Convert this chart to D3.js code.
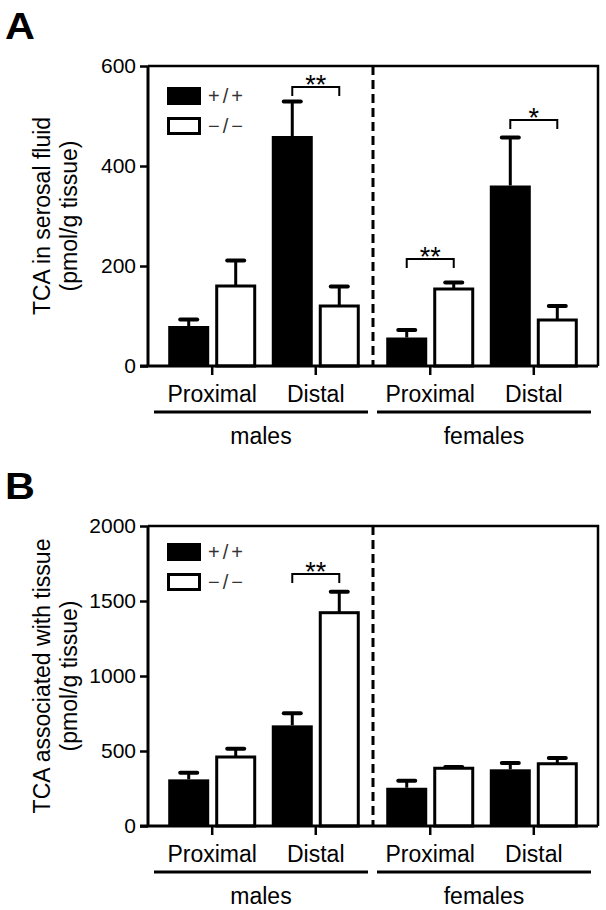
<!DOCTYPE html>
<html><head><meta charset="utf-8">
<script src="https://cdn.jsdelivr.net/npm/d3@7"></script>
<style>
html,body{margin:0;padding:0;background:#fff;}
svg{display:block;font-family:"Liberation Sans",Arial,Helvetica,sans-serif;}
</style></head>
<body>
<svg id="chart" width="606" height="910"></svg>
<script>
// ---------- data ----------
const genders = ["males", "females"];
const regions = ["Proximal", "Distal"];
const genotypes = ["+/+", "\u2212/\u2212"];

// order: males-Proximal, males-Distal, females-Proximal, females-Distal
const serosalWT = [80, 460, 57, 361];
const serosalWTsem = [13, 69, 15, 96];
const serosalKO = [160, 120, 154, 92];
const serosalKOsem = [51, 39, 13, 28];
const serosalTicks = [0, 200, 400, 600];
const serosalSig = [
  { gender: "males", region: "Distal", label: "**", level: 558 },
  { gender: "females", region: "Proximal", label: "**", level: 214 },
  { gender: "females", region: "Distal", label: "*", level: 492 }
];

const tissueWT = [311, 671, 255, 378];
const tissueWTsem = [44, 80, 47, 42];
const tissueKO = [460, 1422, 385, 415];
const tissueKOsem = [55, 140, 8, 38];
const tissueTicks = [0, 500, 1000, 1500, 2000];
const tissueSig = [
  { gender: "males", region: "Distal", label: "**", level: 1680 }
];

// ---------- layout ----------
const L = 148, R = 598, T = 66, B = 366;
const svg = d3.select("#chart");

const xGender = d3.scaleBand().domain(genders).range([L, R]).paddingInner(0.05).paddingOuter(0.057);
const xRegion = d3.scalePoint().domain(regions).range([0, xGender.bandwidth()]).padding(0.5);
const xGeno = d3.scaleBand().domain(genotypes).range([-44, 44]).paddingInner(6 / 47);

function groupX(g, r) { return xGender(g) + xRegion(r); }

function buildRows(wt, wtSem, ko, koSem) {
  const rows = [];
  let i = 0;
  genders.forEach(g => regions.forEach(r => {
    rows.push({ gender: g, region: r, geno: genotypes[0], mean: wt[i], sem: wtSem[i] });
    rows.push({ gender: g, region: r, geno: genotypes[1], mean: ko[i], sem: koSem[i] });
    i++;
  }));
  return rows;
}

function drawPanel(offsetY, letter, rows, ticks, sig, labelLines, legendTop) {
  const g = svg.append("g").attr("transform", `translate(0,${offsetY})`);
  const y = d3.scaleLinear().domain([0, d3.max(ticks)]).range([B, T]);

  // panel letter
  g.append("text").attr("transform", "translate(5,39) scale(1.12,1)").attr("font-size", 37).attr("font-weight", "bold").text(letter);

  // frame top/right
  g.append("path").attr("d", `M${L},${T}H${R}V${B}`).attr("fill", "none").attr("stroke", "#000").attr("stroke-width", 2.5);

  // dashed separator
  const sepX = (xGender("males") + xGender.bandwidth() + xGender("females")) / 2;
  g.append("line").attr("x1", sepX).attr("x2", sepX).attr("y1", T).attr("y2", B)
    .attr("stroke", "#000").attr("stroke-width", 3).attr("stroke-dasharray", "9,5");

  // bars
  g.selectAll("rect.bar").data(rows).join("rect").attr("class", "bar")
    .each(function (d) {
      const cx = groupX(d.gender, d.region) + xGeno(d.geno);
      const wt = d.geno === genotypes[0];
      const sel = d3.select(this);
      if (wt) {
        sel.attr("x", cx).attr("width", xGeno.bandwidth())
          .attr("y", y(d.mean)).attr("height", y(0) - y(d.mean)).attr("fill", "#000");
      } else {
        sel.attr("x", cx + 1.5).attr("width", xGeno.bandwidth() - 3)
          .attr("y", y(d.mean)).attr("height", y(0) - y(d.mean)).attr("fill", "#fff")
          .attr("stroke", "#000").attr("stroke-width", 3);
      }
    });

  // error bars (upper only)
  rows.forEach(d => {
    const cx = groupX(d.gender, d.region) + xGeno(d.geno) + xGeno.bandwidth() / 2;
    g.append("line").attr("x1", cx).attr("x2", cx).attr("y1", y(d.mean)).attr("y2", y(d.mean + d.sem))
      .attr("stroke", "#000").attr("stroke-width", 3);
    g.append("line").attr("x1", cx - 8.5).attr("x2", cx + 8.5).attr("y1", y(d.mean + d.sem)).attr("y2", y(d.mean + d.sem))
      .attr("stroke", "#000").attr("stroke-width", 4).attr("stroke-linecap", "round");
  });

  // y axis
  const yAxis = d3.axisLeft(y).tickValues(ticks).tickSize(8).tickPadding(4).tickFormat(d3.format("d"));
  const ya = g.append("g").attr("transform", `translate(${L},0)`).call(yAxis);
  ya.select(".domain").attr("stroke-width", 3).attr("d", `M0,${T}V${B}`);
  ya.selectAll(".tick line").attr("stroke-width", 2.5);
  ya.selectAll(".tick text").attr("font-size", 21).attr("font-family", "Liberation Sans, Arial, sans-serif").attr("fill", "#000");

  // x axis
  const xa = g.append("g");
  xa.append("line").attr("x1", L - 8).attr("x2", R).attr("y1", B).attr("y2", B).attr("stroke", "#000").attr("stroke-width", 3);
  genders.forEach(gd => regions.forEach(r => {
    const cx = groupX(gd, r);
    xa.append("line").attr("x1", cx).attr("x2", cx).attr("y1", B).attr("y2", B + 9).attr("stroke", "#000").attr("stroke-width", 2.5);
    xa.append("text").attr("x", cx).attr("y", 402).attr("text-anchor", "middle").attr("font-size", 23).text(r);
  }));
  genders.forEach(gd => {
    const c = xGender(gd) + xGender.bandwidth() / 2 + (gd === "males" ? -3 : 2);
    xa.append("line").attr("x1", c - 107).attr("x2", c + 107).attr("y1", 412).attr("y2", 412).attr("stroke", "#000").attr("stroke-width", 3);
    xa.append("text").attr("x", c).attr("y", 444).attr("text-anchor", "middle").attr("font-size", 23).text(gd);
  });

  // y label
  const midY = (T + B) / 2;
  g.append("text").attr("transform", `translate(50,${midY}) rotate(-90)`).attr("text-anchor", "middle").attr("font-size", 23).text(labelLines[0]);
  g.append("text").attr("transform", `translate(77,${midY}) rotate(-90)`).attr("text-anchor", "middle").attr("font-size", 23).text(labelLines[1]);

  // legend
  genotypes.forEach((gt, i) => {
    const ly = legendTop + i * 30;
    if (i === 0) {
      g.append("rect").attr("x", 167).attr("y", ly).attr("width", 34).attr("height", 18).attr("fill", "#000");
    } else {
      g.append("rect").attr("x", 168.5).attr("y", ly + 1.5).attr("width", 31).attr("height", 15).attr("fill", "#fff").attr("stroke", "#000").attr("stroke-width", 3);
    }
    g.append("text").attr("x", 208).attr("y", ly + 16).attr("font-size", 20).attr("letter-spacing", 3).attr("fill", "#333").text(gt);
  });

  // significance brackets
  sig.forEach(s => {
    const x1 = groupX(s.gender, s.region) + xGeno(genotypes[0]) + xGeno.bandwidth() / 2;
    const x2 = groupX(s.gender, s.region) + xGeno(genotypes[1]) + xGeno.bandwidth() / 2;
    const yy = y(s.level);
    g.append("path").attr("d", `M${x1},${yy + 9}V${yy}H${x2}V${yy + 9}`).attr("fill", "none").attr("stroke", "#000").attr("stroke-width", 2);
    g.append("text").attr("x", (x1 + x2) / 2).attr("y", yy + 7).attr("text-anchor", "middle").attr("font-size", 27).text(s.label);
  });
}

drawPanel(0, "A", buildRows(serosalWT, serosalWTsem, serosalKO, serosalKOsem), serosalTicks, serosalSig,
  ["TCA in serosal fluid", "(pmol/g tissue)"], 87);
drawPanel(460, "B", buildRows(tissueWT, tissueWTsem, tissueKO, tissueKOsem), tissueTicks, tissueSig,
  ["TCA associated with tissue", "(pmol/g tissue)"], 83);
</script>
</body></html>
